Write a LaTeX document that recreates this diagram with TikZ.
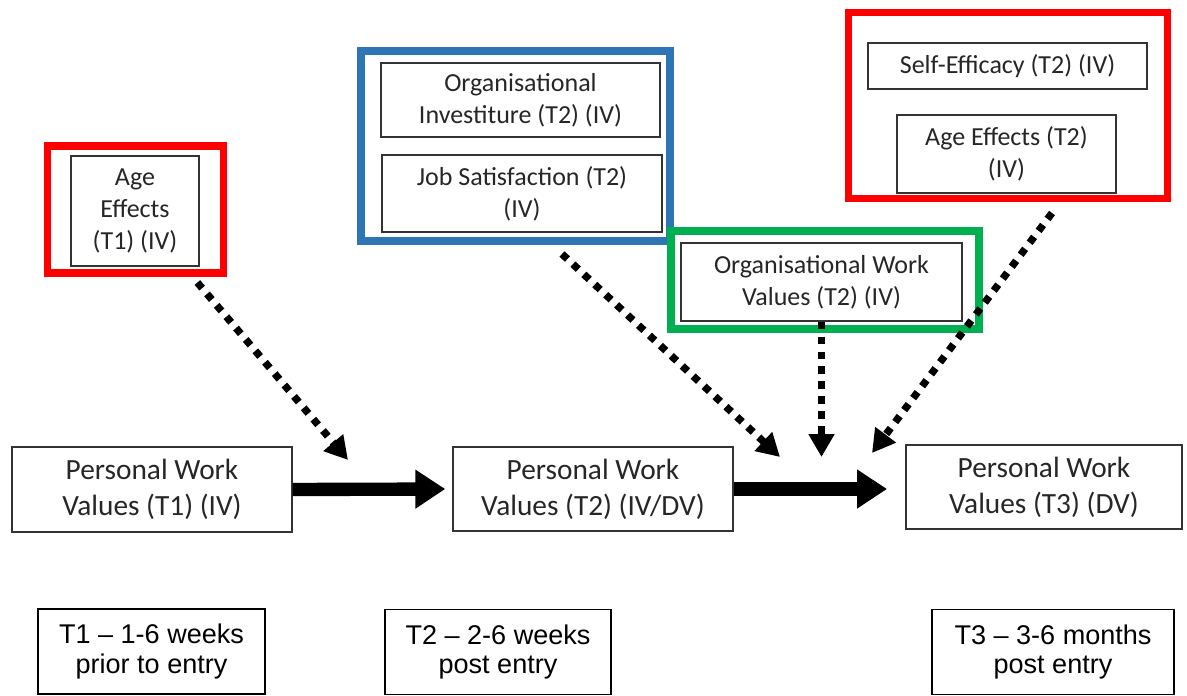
\documentclass[tikz,border=0pt]{standalone}
\usepackage{fontspec}
\setmainfont{Carlito}
\newfontfamily\arialfont[Ligatures=TeX]{Liberation Sans}
\usetikzlibrary{arrows.meta}
\definecolor{frameblue}{RGB}{46,117,182}
\definecolor{framegreen}{RGB}{0,176,80}

\begin{document}
\begin{tikzpicture}[x=0.02cm,y=-0.02cm]
\tikzstyle{varbox}=[draw=black!80,line width=.8pt,align=center,inner sep=0pt,
  text=black!85,font=\fontsize{14.8pt}{18.2pt}\selectfont]
\tikzstyle{pwvbox}=[draw=black!80,line width=.8pt,align=center,inner sep=0pt,
  text=black!85,font=\fontsize{16.7pt}{20.4pt}\selectfont,minimum width=5.6cm,
  minimum height=1.68cm]
\tikzstyle{timebox}=[draw=black,line width=.8pt,align=center,inner sep=0pt,
  font=\arialfont\fontsize{15.4pt}{17pt}\selectfont,minimum height=1.7cm]
\tikzstyle{frame}=[draw,inner sep=0pt]
\tikzstyle{dotarrow}=[line width=4.2pt,dash pattern=on 4.2pt off 4.3pt,
  -{Triangle[width=14pt,length=13pt]}]
\tikzstyle{thickarrow}=[line width=7.6pt,-{Triangle[width=21pt,length=17pt]}]

\useasboundingbox (0,0) rectangle (1187,696);

%age effects at T1
\node[varbox,minimum width=2.56cm,minimum height=2.2cm] (age1) at (135,211)
  {Age\\Effects\\(T1) (IV)};
\node[frame,draw=red,line width=4pt,minimum width=3.54cm,minimum height=2.54cm]
  (grp1) at (135.5,209.5) {};

%organisational variables at T2
\node[varbox,minimum width=5.58cm,minimum height=1.48cm] (invest) at (520.5,100)
  {Organisational\\Investiture (T2) (IV)};
\node[varbox,minimum width=5.6cm,minimum height=1.54cm] (jobsat) at (522,193.5)
  {Job Satisfaction (T2)\\(IV)};
\node[frame,draw=frameblue,line width=4.5pt,minimum width=6.18cm,minimum height=3.8cm]
  (grp2) at (515.5,146) {};

%individual variables at T2
\node[varbox,minimum width=5.58cm,minimum height=0.92cm] (selfeff) at (1007.5,66)
  {Self-Efficacy (T2) (IV)};
\node[varbox,minimum width=4.38cm,minimum height=1.56cm] (age2) at (1006.5,154)
  {Age Effects (T2)\\(IV)};
\node[frame,draw=red,line width=4pt,minimum width=6.4cm,minimum height=3.74cm]
  (grp3) at (1008,105.5) {};

%organisational work values
\node[varbox,minimum width=5.62cm,minimum height=1.56cm] (orgwv) at (821.5,282)
  {Organisational Work\\Values (T2) (IV)};
\node[frame,draw=framegreen,line width=4.5pt,minimum width=6.16cm,minimum height=1.96cm]
  (grp4) at (825,280) {};

%personal work values over time
\node[pwvbox,minimum height=1.7cm] (pwv1) at (152,489.5) {Personal Work\\Values (T1) (IV)};
\node[pwvbox] (pwv2) at (593,489) {Personal Work\\Values (T2) (IV/DV)};
\node[pwvbox,minimum width=5.52cm] (pwv3) at (1044,487) {Personal Work\\Values (T3) (DV)};

\draw[thickarrow,shorten >=4pt] (pwv1.east) -- (pwv2.west);
\draw[thickarrow,shorten >=10.4pt] (pwv2.east) -- (pwv2.east -| pwv3.west);

%time points
\node[timebox,minimum width=4.54cm] (time1) at (151.5,651.5) {T1 -- 1-6 weeks\\prior to entry};
\node[timebox,minimum width=4.52cm] (time2) at (498,652) {T2 -- 2-6 weeks\\post entry};
\node[timebox,minimum width=4.84cm] (time3) at (1053,652) {T3 -- 3-6 months\\post entry};

%dotted influences
\coordinate (tip1) at (348,460);
\coordinate (from2) at (562,254);
\coordinate (tip2) at (780,457);
\coordinate (tip3) at (820,457);
\coordinate (from4) at (1052,213);
\coordinate (tip4) at (872,453);

\draw[dotarrow,shorten <=4.5pt] (grp1) -- (tip1);
\draw[dotarrow] (from2) -- (tip2);
\draw[dotarrow] (orgwv.south) -- (orgwv.south |- tip3);
\draw[dotarrow] (from4) -- (tip4);

\end{tikzpicture}
\end{document}
